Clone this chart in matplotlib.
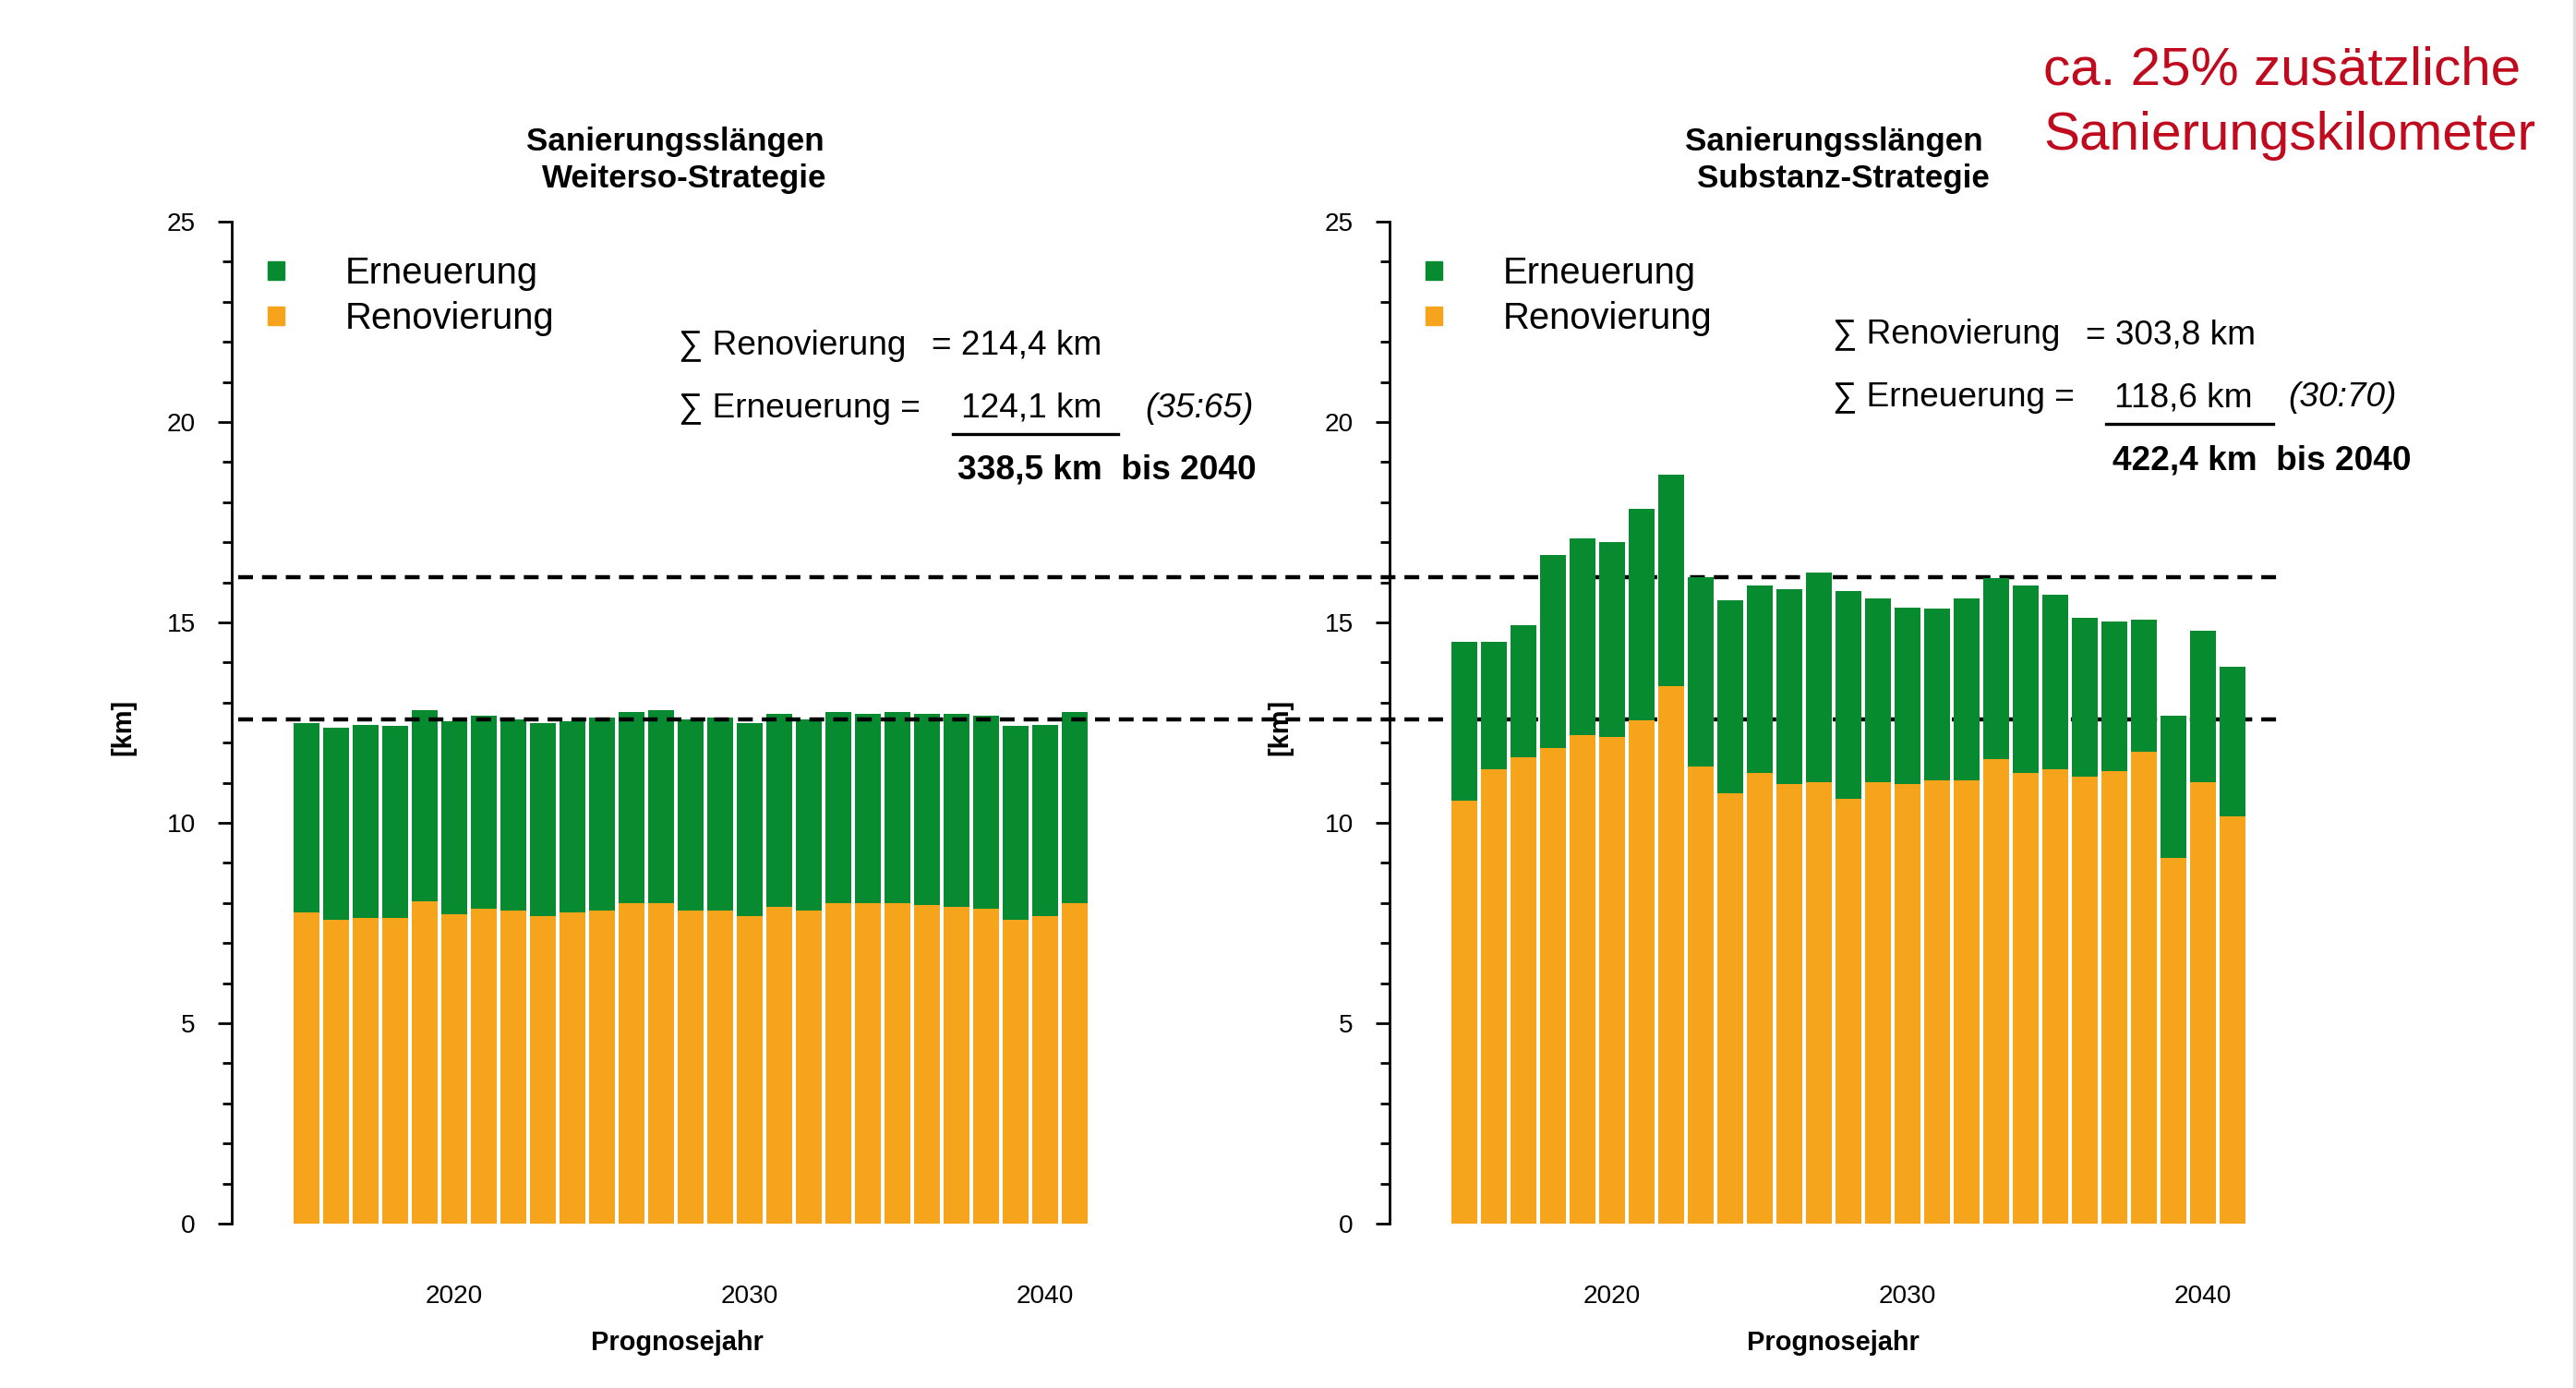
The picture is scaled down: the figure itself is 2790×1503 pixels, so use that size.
#!/usr/bin/env python3
"""Sanierungslängen: Weiterso- vs. Substanz-Strategie (stacked bars, two panels)."""

import matplotlib
matplotlib.use("Agg")
import matplotlib.pyplot as plt
from matplotlib.patches import Rectangle
from matplotlib.lines import Line2D

# ---------------------------------------------------------------------------
# Data (km per forecast year)
# ---------------------------------------------------------------------------
years = list(range(2015, 2042))

weiterso_renovierung = [7.77, 7.58, 7.63, 7.63, 8.03, 7.72, 7.86, 7.81, 7.67,
                        7.77, 7.81, 7.99, 7.99, 7.81, 7.81, 7.67, 7.90, 7.81,
                        7.99, 7.99, 7.99, 7.94, 7.90, 7.86, 7.58, 7.67, 7.99]
weiterso_erneuerung = [4.72, 4.79, 4.81, 4.78, 4.78, 4.81, 4.81, 4.78, 4.82,
                       4.76, 4.81, 4.77, 4.82, 4.78, 4.81, 4.82, 4.81, 4.78,
                       4.77, 4.72, 4.77, 4.77, 4.81, 4.81, 4.83, 4.78, 4.77]

substanz_renovierung = [10.55, 11.33, 11.64, 11.87, 12.18, 12.14, 12.55, 13.40,
                        11.41, 10.74, 11.24, 10.96, 11.01, 10.60, 11.01, 10.96,
                        11.05, 11.05, 11.59, 11.24, 11.33, 11.15, 11.28, 11.77,
                        9.12, 11.01, 10.15]
substanz_erneuerung = [3.97, 3.19, 3.28, 4.82, 4.91, 4.86, 5.28, 5.29, 4.73,
                       4.82, 4.68, 4.87, 5.23, 5.18, 4.60, 4.42, 4.29, 4.56,
                       4.51, 4.68, 4.37, 3.96, 3.74, 3.29, 3.55, 3.78, 3.74]

reference_levels = [16.14, 12.59]
year_ticks = [2020, 2030, 2040]
y_ticks = [0, 5, 10, 15, 20, 25]

panel_titles = ["Sanierungsslängen\nWeiterso-Strategie",
                "Sanierungsslängen\nSubstanz-Strategie"]
sum_renovierung = ["214,4 km", "303,8 km"]
sum_erneuerung = ["124,1 km", "118,6 km"]
ratios = ["(35:65)", "(30:70)"]
totals = ["338,5 km  bis 2040", "422,4 km  bis 2040"]

GREEN = "#078a30"
ORANGE = "#f5a41c"
RED = "#c00a1e"
FONT = ["Liberation Sans", "DejaVu Sans"]

W, H = 2790, 1503
plt.rcParams["font.family"] = FONT

fig = plt.figure(figsize=(W / 100, H / 100), dpi=100)

DY = 4  # small downward nudge for all free text


def fx(x):
    return x / W


def fy(y):
    return 1 - (y + DY) / H


def px(size_px):
    return size_px * 0.72


PX_PER_YEAR = 32.0
AX_W = 980
AX_TOP, AX_BOTTOM = 240, 1325
axis_x = [251, 1505]
first_bar_offset = 81  # pixels from y-axis to first bar centre

axes = []
for i, x0 in enumerate(axis_x):
    ax = fig.add_axes([x0 / W, 1 - AX_BOTTOM / H, AX_W / W, (AX_BOTTOM - AX_TOP) / H])
    xmin = years[0] - first_bar_offset / PX_PER_YEAR
    ax.set_xlim(xmin, xmin + AX_W / PX_PER_YEAR)
    ax.set_ylim(0, 25)
    axes.append(ax)

series = [(weiterso_renovierung, weiterso_erneuerung),
          (substanz_renovierung, substanz_erneuerung)]

for ax, (ren, ern) in zip(axes, series):
    ax.bar(years, ren, width=0.85, color=ORANGE, linewidth=0)
    ax.bar(years, ern, bottom=ren, width=0.85, color=GREEN, linewidth=0)

    for s in ("top", "right", "bottom"):
        ax.spines[s].set_visible(False)
    ax.spines["left"].set_linewidth(2.0)
    ax.set_yticks(y_ticks)
    ax.set_yticks(range(0, 26), minor=True)
    ax.tick_params(axis="y", which="major", length=11, width=2.0,
                   labelsize=px(28), pad=px(24))
    ax.tick_params(axis="y", which="minor", length=7, width=2.0)
    ax.set_xticks(year_ticks)
    ax.tick_params(axis="x", length=0, labelsize=px(28), pad=px(66))
    ax.patch.set_alpha(0)

# dashed reference lines spanning both panels
ax0 = axes[0]
for lvl in reference_levels:
    ax0.axhline(lvl, xmin=(258 - axis_x[0]) / AX_W, xmax=(2473 - axis_x[0]) / AX_W,
                color="black", linewidth=3.2, linestyle=(0, (3.6, 2.2)),
                clip_on=False, zorder=5)

# titles, axis labels
title_cx = [735, 1990]
for i in range(2):
    l1, l2 = panel_titles[i].split("\n")
    fig.text(fx(title_cx[i] - 4), fy(149), l1, ha="center", va="center",
             fontsize=px(35), fontweight="bold")
    fig.text(fx(title_cx[i] + 6), fy(190), l2, ha="center", va="center",
             fontsize=px(35), fontweight="bold")

for cx in (733, 1985):
    fig.text(fx(cx), fy(1450), "Prognosejahr", ha="center", va="center",
             fontsize=px(29), fontweight="bold")
for cx in (133, 1386):
    fig.text(fx(cx), fy(783), "[km]", ha="center", va="center", rotation=90,
             fontsize=px(29), fontweight="bold")

# legends
legend_x = [299, 1553]
for lx in legend_x:
    for ly, lab, col in ((289, "Erneuerung", GREEN), (338, "Renovierung", ORANGE)):
        fig.patches.append(Rectangle((fx(lx - 9), fy(ly + 10)), 18 / W, 20 / H,
                                     transform=fig.transFigure, color=col))
        fig.text(fx(lx + 75), fy(ly + 3), lab, ha="left", va="center",
                 fontsize=px(40))

# sum blocks
blocks = [
    dict(x=735, eq=1009, num=1041, ratio=1240, ul=(1032, 1211), tot=1037,
         y=(370, 438, 466, 505)),
    dict(x=1985, eq=2259, num=2290, ratio=2478, ul=(2281, 2462), tot=2288,
         y=(359, 427, 455, 495)),
]
for i, b in enumerate(blocks):
    y1, y2, yu, y3 = b["y"]
    fig.text(fx(b["x"]), fy(y1), "\u2211 Renovierung", ha="left", va="center",
             fontsize=px(37))
    fig.text(fx(b["eq"]), fy(y1), "= " + sum_renovierung[i], ha="left",
             va="center", fontsize=px(37))
    fig.text(fx(b["x"]), fy(y2), "\u2211 Erneuerung =", ha="left", va="center",
             fontsize=px(37))
    fig.text(fx(b["num"]), fy(y2), sum_erneuerung[i], ha="left", va="center",
             fontsize=px(37))
    fig.text(fx(b["ratio"]), fy(y2), ratios[i], ha="left", va="center",
             fontsize=px(37), style="italic")
    fig.add_artist(Line2D([fx(b["ul"][0]), fx(b["ul"][1])], [fy(yu), fy(yu)],
                          transform=fig.transFigure, color="black", linewidth=2.4))
    fig.text(fx(b["tot"]), fy(y3), totals[i], ha="left", va="center",
             fontsize=px(37), fontweight="bold")

# red annotation
fig.text(fx(2213), fy(72), "ca. 25% zusätzliche", ha="left", va="center",
         fontsize=px(58.5), color=RED)
fig.text(fx(2213), fy(143), "Sanierungskilometer", ha="left", va="center",
         fontsize=px(58.5), color=RED)

# faint slide border on the right edge
fig.add_artist(Line2D([fx(2788), fx(2788)], [0, 1], transform=fig.transFigure,
                      color="#e0e0e0", linewidth=2.5))

fig.savefig("out.png", dpi=100, facecolor="white")
